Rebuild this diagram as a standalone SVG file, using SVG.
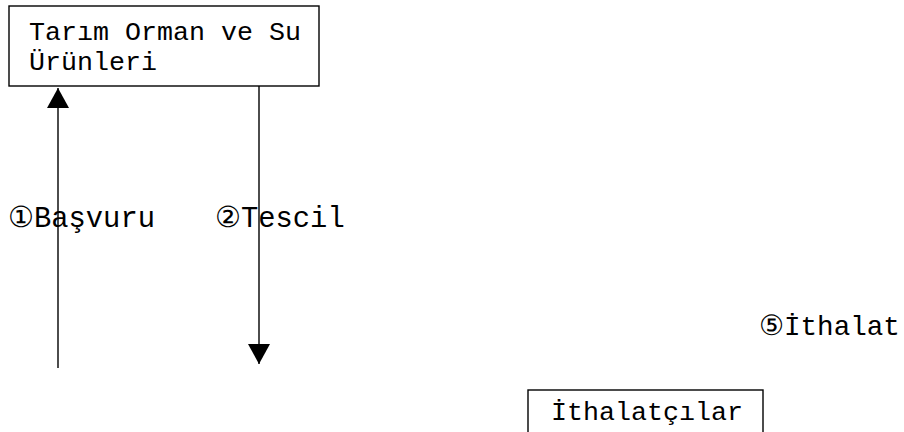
<svg xmlns="http://www.w3.org/2000/svg" width="904" height="432" viewBox="0 0 904 432">
<style>
text{font-family:"Liberation Mono","Courier New","DejaVu Sans Mono",monospace;font-size:26.67px;fill:#000}
text.lbl{font-size:28.8px}
text.lbl2{font-size:27.6px}
.box{fill:#fff;stroke:#000;stroke-width:1.4}
.ln{stroke:#000;stroke-width:1.4;fill:none}
</style>
<rect width="904" height="432" fill="#fff"/>
<g id="connectors">
<line class="ln" x1="58" y1="368" x2="58" y2="88"/>
<path d="M47,108 L58,88 L69,108 Z" fill="#000"/>
<line class="ln" x1="259" y1="86" x2="259" y2="364"/>
<path d="M248,344 L259,364 L270,344 Z" fill="#000"/>
<text class="lbl" x="8" y="227">①<tspan x="34">Başvuru</tspan></text>
<text class="lbl" x="215" y="227">②<tspan x="241">Tescil</tspan></text>
<text class="lbl2" x="759" y="335">⑤<tspan x="784">İthalat</tspan></text>
</g>
<g id="node-tarim">
<rect class="box" x="9" y="6" width="310" height="80"/>
<text x="29" y="40">Tarım Orman ve Su</text>
<text x="29" y="70">Ürünleri</text>
</g>
<g id="node-ithalatcilar">
<rect class="box" x="528" y="390" width="235" height="50"/>
<text x="551" y="420">İthalatçılar</text>
</g>
</svg>
